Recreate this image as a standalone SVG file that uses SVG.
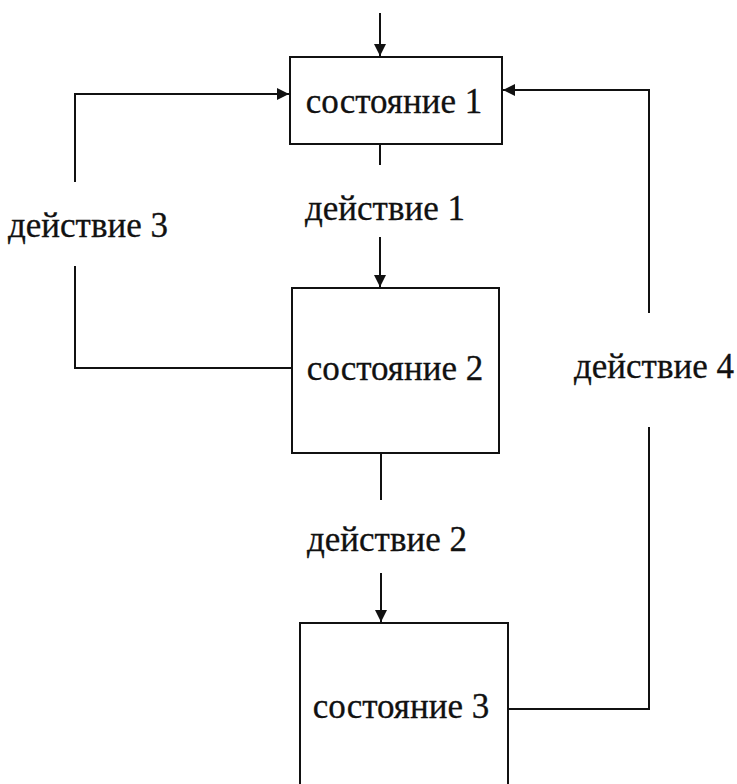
<svg xmlns="http://www.w3.org/2000/svg" width="737" height="784" viewBox="0 0 737 784">
<defs>
<marker id="ah" markerWidth="12" markerHeight="12" refX="12" refY="6" orient="auto" markerUnits="userSpaceOnUse">
<path d="M0,0 L12,6 L0,12 Z" fill="#111"/>
</marker>
<style>
.box{fill:#fff;stroke:#111;stroke-width:2}
.ln{fill:none;stroke:#111;stroke-width:2}
.t{font-family:"Liberation Serif","Times New Roman",serif;font-size:35px;fill:#111;stroke:#111;stroke-width:0.3}
</style>
</defs>
<rect width="737" height="784" fill="#fff"/>
<g id="connectors">
<path class="ln" d="M380,13 V56" marker-end="url(#ah)"/>
<path class="ln" d="M380,144 V165"/>
<path class="ln" d="M380,237 V287" marker-end="url(#ah)"/>
<path class="ln" d="M381,453 V500"/>
<path class="ln" d="M381,573 V622" marker-end="url(#ah)"/>
<path class="ln" d="M292,368 H75 V266"/>
<path class="ln" d="M75,182 V94 H289" marker-end="url(#ah)"/>
<path class="ln" d="M508,709 H649 V427"/>
<path class="ln" d="M649,313 V90 H503" marker-end="url(#ah)"/>
<text class="t" x="385" y="220" text-anchor="middle">действие 1</text>
<text class="t" x="387" y="551" text-anchor="middle">действие 2</text>
<text class="t" x="88" y="237" text-anchor="middle">действие 3</text>
<text class="t" x="654" y="378" text-anchor="middle">действие 4</text>
</g>
<g id="state1">
<rect class="box" x="290" y="57" width="212" height="87"/>
<text class="t" x="394" y="113" text-anchor="middle">состояние 1</text>
</g>
<g id="state2">
<rect class="box" x="292" y="288" width="207" height="165"/>
<text class="t" x="395" y="380" text-anchor="middle">состояние 2</text>
</g>
<g id="state3">
<rect class="box" x="300" y="623" width="208" height="180"/>
<text class="t" x="401" y="718" text-anchor="middle">состояние 3</text>
</g>
</svg>
